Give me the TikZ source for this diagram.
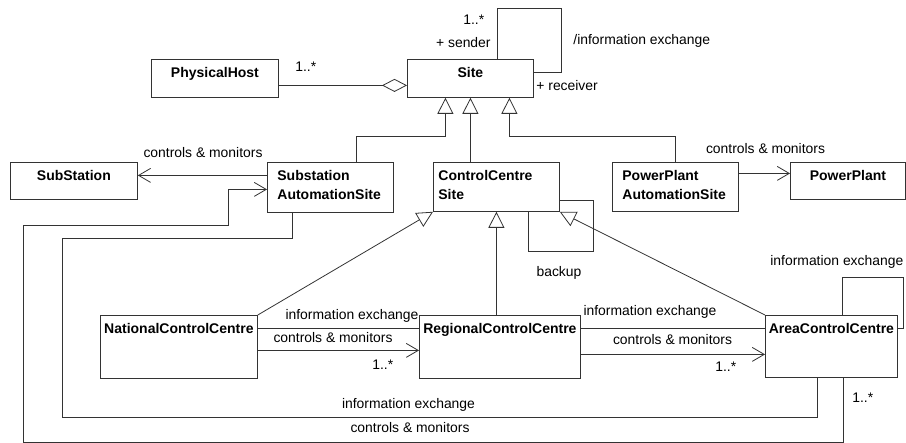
\documentclass[tikz,border=0pt]{standalone}
\usepackage{fontspec}
\setmainfont{Liberation Sans}
\usetikzlibrary{arrows.meta}
\begin{document}
\begin{tikzpicture}[x=1pt,y=-1pt,line width=0.8pt,draw=black!80,
  cls/.style={draw,rectangle,inner sep=0pt,anchor=north west},
  cname/.style={font=\fontsize{14}{17}\selectfont\bfseries,inner sep=0pt},
  lbl/.style={font=\fontsize{13.9}{16}\selectfont,inner sep=0pt,anchor=mid},
  gen/.style={-{Triangle[length=16pt,width=16pt,fill=white]}},
  nav/.style={-{Straight Barb[length=12pt,width=14pt]}},
  agg/.style={-{Diamond[length=25pt,width=13pt,fill=white]}}]
\useasboundingbox (0,0) rectangle (906,443);
\clip (0,0) rectangle (906,443);

% classes
\node[cls,minimum width=127pt,minimum height=38pt] (ph)    at (151,59)  {};
\node[cls,minimum width=126pt,minimum height=38pt] (site)  at (407,59)  {};
\node[cls,minimum width=127pt,minimum height=37pt] (subst) at (10,162)  {};
\node[cls,minimum width=126pt,minimum height=50pt] (sas)   at (267,162) {};
\node[cls,minimum width=126pt,minimum height=49pt] (ccs)   at (433,162) {};
\node[cls,minimum width=126pt,minimum height=49pt] (ppas)  at (612,162) {};
\node[cls,minimum width=115pt,minimum height=37pt] (pp)    at (790,162) {};
\node[cls,minimum width=157pt,minimum height=63pt] (ncc)   at (100,315) {};
\node[cls,minimum width=161pt,minimum height=63pt] (rcc)   at (419,315) {};
\node[cls,minimum width=132pt,minimum height=62pt] (acc)   at (765,315) {};

% class names
\node[cname,anchor=base] (phT)    at ([yshift=-18.5pt]ph.north)    {PhysicalHost};
\node[cname,anchor=base] (siteT)  at ([yshift=-18.5pt]site.north)  {Site};
\node[cname,anchor=base] (substT) at ([yshift=-18.5pt]subst.north) {SubStation};
\node[cname,anchor=base west] (sasT1) at ([xshift=10pt,yshift=-18.5pt]sas.north west) {Substation};
\node[cname,anchor=base west] (sasT2) at ([xshift=10pt,yshift=-38pt]sas.north west)   {AutomationSite};
\node[cname,anchor=base west] (ccsT1) at ([xshift=5pt,yshift=-18.5pt]ccs.north west)  {ControlCentre};
\node[cname,anchor=base west] (ccsT2) at ([xshift=5pt,yshift=-38pt]ccs.north west)    {Site};
\node[cname,anchor=base west] (ppasT1) at ([xshift=10pt,yshift=-18.5pt]ppas.north west) {PowerPlant};
\node[cname,anchor=base west] (ppasT2) at ([xshift=10pt,yshift=-38pt]ppas.north west)   {AutomationSite};
\node[cname,anchor=base] (ppT)  at ([yshift=-18.5pt]pp.north)  {PowerPlant};
\node[cname,anchor=base] (nccT) at ([yshift=-18.5pt]ncc.north) {NationalControlCentre};
\node[cname,anchor=base] (rccT) at ([yshift=-18.5pt]rcc.north) {RegionalControlCentre};
\node[cname,anchor=base] (accT) at ([yshift=-18.5pt]acc.north) {AreaControlCentre};

% aggregation
\draw[agg] ([yshift=-7pt]ph.east) -- ([yshift=-7pt]site.west);
\node[lbl,anchor=mid west] (m1) at (295,68.5) {1..*};

% Site self association
\draw ([xshift=27pt]site.north) |- (561,8) |- ([yshift=6pt]site.east);
\node[lbl,anchor=mid west] (m2) at (463,21.5) {1..*};
\node[lbl,anchor=mid east] (r1) at (491,44.5) {+ sender};
\node[lbl,anchor=mid west] (r2) at (536,87.5) {+ receiver};
\node[lbl,anchor=mid west] (l1) at (573,42) {/information exchange};

% specialisations of Site
\draw[gen] ([xshift=26pt]sas.north) -- ++(0,-26) -| ([xshift=-25pt]site.south);
\draw[gen] (site.south |- ccs.north) -- (site.south);
\draw[gen] (ppas.north) -- ++(0,-26) -| ([xshift=39pt]site.south);

% automation sites
\draw[nav] ([yshift=12pt]sas.west) -- ([yshift=12pt]sas.west -| subst.east);
\node[lbl] (l2) at (203,154.5) {controls \& monitors};
\draw[nav] ([yshift=13.5pt]ppas.east) -- ([yshift=13.5pt]ppas.east -| pp.west);
\node[lbl] (l3) at (765.5,150.5) {controls \& monitors};

% specialisations of ControlCentreSite
\draw[gen] (ncc.north east) -- (ccs.south west);
\draw[gen] (ccs.south |- rcc.north) -- (ccs.south);
\draw[gen] (acc.north west) -- (ccs.south east);

% backup
\draw ([xshift=32pt]ccs.south) |- (593,251) |- ([yshift=-13.5pt]ccs.east);
\node[lbl] (l4) at (559,273.5) {backup};

% national -> regional
\draw ([yshift=18.5pt]ncc.east) -- ([yshift=18.5pt]ncc.east -| rcc.west);
\draw[nav] ([yshift=-3.5pt]ncc.east) -- ([yshift=-3.5pt]ncc.east -| rcc.west);
\node[lbl] (l5) at (352,316.5) {information exchange};
\node[lbl] (l6) at (333,339.5) {controls \& monitors};
\node[lbl,anchor=mid west] (m3) at (372,366.5) {1..*};

% regional -> area
\draw ([yshift=18.5pt]rcc.east) -- ([yshift=18.5pt]rcc.east -| acc.west);
\draw[nav] ([yshift=-7.5pt]rcc.east) -- ([yshift=-7.5pt]rcc.east -| acc.west);
\node[lbl] (l7) at (650,312.5) {information exchange};
\node[lbl] (l8) at (672.5,342) {controls \& monitors};
\node[lbl,anchor=mid west] (m4) at (715,368.5) {1..*};

% area self association
\draw ([xshift=11pt]acc.north) |- (903,277) |- ([yshift=18pt]acc.east);
\node[lbl,anchor=mid west] (l9) at (770,262.5) {information exchange};

% area <-> substation automation
\draw ([xshift=-38pt]sas.south) -- ++(0,26) -| (62,417) -| ([xshift=-14pt]acc.south);
\node[lbl] (l10) at (408.5,405.5) {information exchange};
\draw[nav] ([xshift=12pt]acc.south) |- (23,442) |- (228,225) |- ([yshift=-2pt]sas.west);
\node[lbl] (l11) at (410,429.5) {controls \& monitors};
\node[lbl,anchor=mid west] (m5) at (852,399.5) {1..*};
\end{tikzpicture}
\end{document}
